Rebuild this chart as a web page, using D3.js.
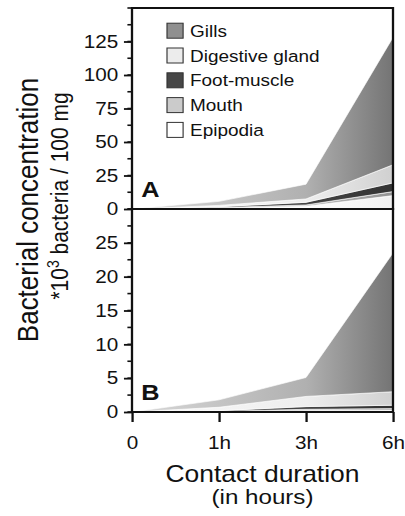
<!DOCTYPE html>
<html>
<head>
<meta charset="utf-8">
<script src="https://cdn.jsdelivr.net/npm/d3@7"></script>
<style>
  body { margin: 0; background: #fff; }
  svg text { font-family: "Liberation Sans", Arial, sans-serif; fill: #111; }
</style>
</head>
<body>
<div id="chart"></div>
<script>
// contact time points
const times = ["0", "1h", "3h", "6h"];
const organs = ["Epipodia", "Mouth", "Foot-muscle", "Digestive gland", "Gills"];

// panel A (x10^3 bacteria / 100 mg)
const aEpipodia  = [0, 0.6, 2, 10];
const aMouth     = [0, 0.5, 1, 3];
const aFoot      = [0, 0.6, 2, 6.5];
const aDigestive = [0, 1, 2.5, 13.5];
const aGills     = [0, 3, 11, 95];

// panel B
const bEpipodia  = [0, 0.05, 0.2, 0.3];
const bMouth     = [0, 0.05, 0.2, 0.2];
const bFoot      = [0, 0.1, 0.4, 0.5];
const bDigestive = [0, 0.5, 1.5, 2.0];
const bGills     = [0, 1.1, 2.8, 20.5];

const aTicks = [0, 25, 50, 75, 100, 125];
const bTicks = [0, 5, 10, 15, 20, 25];

// whole figure is stretched a bit horizontally
const S = 1.15;
const H = 516;
const left = 132 / S, right = 393 / S;
const topA = 8, mid = 209, bot = 412;

const svg = d3.select("#chart").append("svg")
  .attr("width", 405).attr("height", H);
const defs = svg.append("defs");
const g = svg.append("g").attr("transform", `scale(${S},1)`);

const x = d3.scalePoint().domain(times).range([left, right]);

// gradients, left to right
const grads = {
  "Gills": ["#d8d8d8", "#b0b0b0", "#747474"],
  "Digestive gland": ["#fafafa", "#eeeeee", "#d0d0d0"],
  "Foot-muscle": ["#555", "#444", "#333"],
  "Mouth": ["#d0d0d0", "#bdbdbd", "#929292"],
  "Epipodia": ["#ffffff", "#fdfdfd", "#f0f0f0"]
};
Object.keys(grads).forEach((k, i) => {
  const lg = defs.append("linearGradient").attr("id", "gr" + i)
    .attr("gradientUnits", "userSpaceOnUse")
    .attr("x1", left).attr("x2", right).attr("y1", 0).attr("y2", 0);
  [0, 0.67, 1].forEach((o, j) => lg.append("stop")
    .attr("offset", o).attr("stop-color", grads[k][j]));
});
const fillOf = k => "url(#gr" + Object.keys(grads).indexOf(k) + ")";

function panel(cols, domain, y0, y1, ticks, minorStep, letter) {
  const y = d3.scaleLinear().domain(domain).range([y1, y0]);
  const rows = times.map((t, i) => {
    const r = { t };
    organs.forEach((o, j) => r[o] = cols[j][i]);
    return r;
  });
  const series = d3.stack().keys(organs)(rows);
  const area = d3.area()
    .x(d => x(d.data.t))
    .y0(d => y(d[0]))
    .y1(d => y(d[1]));
  g.append("g").selectAll("path").data(series).join("path")
    .attr("d", area)
    .attr("fill", d => fillOf(d.key))
    .attr("stroke", "#fff").attr("stroke-width", 0.6);

  // minor ticks
  const minor = d3.range(domain[0], domain[1] + 0.01, minorStep);
  g.append("g").selectAll("line").data(minor).join("line")
    .attr("x1", left - 4).attr("x2", left)
    .attr("y1", d => y(d)).attr("y2", d => y(d))
    .attr("stroke", "#111").attr("stroke-width", 1.6);

  const ax = g.append("g").attr("transform", `translate(${left},0)`)
    .call(d3.axisLeft(y).tickValues(ticks).tickSize(7).tickPadding(5));
  ax.select(".domain").remove();
  ax.selectAll("line").attr("stroke", "#111").attr("stroke-width", 1.8);
  ax.selectAll("text").attr("font-size", 18).attr("fill", "#111")
    .style("font-family", "Liberation Sans, Arial, sans-serif");

  g.append("rect").attr("x", left).attr("y", y0)
    .attr("width", right - left).attr("height", y1 - y0)
    .attr("fill", "none").attr("stroke", "#111").attr("stroke-width", 2);

  g.append("text").attr("x", left + 8).attr("y", letter === "A" ? 197 : 400)
    .attr("font-size", 22).attr("font-weight", "bold").text(letter);
}

panel([aEpipodia, aMouth, aFoot, aDigestive, aGills], [0, 150], topA, mid,
  aTicks, 12.5, "A");
panel([bEpipodia, bMouth, bFoot, bDigestive, bGills], [0, 30], mid, bot,
  bTicks, 2.5, "B");

// x axis
const xa = g.append("g").attr("transform", `translate(0,${bot})`)
  .call(d3.axisBottom(x).tickSize(10).tickPadding(14));
xa.select(".domain").remove();
xa.selectAll("line").attr("stroke", "#111").attr("stroke-width", 2);
xa.selectAll("text").attr("font-size", 18).attr("fill", "#111")
  .style("font-family", "Liberation Sans, Arial, sans-serif");

// legend
const legendKeys = ["Gills", "Digestive gland", "Foot-muscle", "Mouth", "Epipodia"];
const legendFill = ["#8f8f8f", "#ececec", "#474747", "#cbcbcb", "#ffffff"];
const lg = g.append("g").selectAll("g").data(legendKeys).join("g")
  .attr("transform", (d, i) => `translate(${167 / S},${30.7 + i * 24.8})`);
lg.append("rect").attr("x", 0).attr("y", -7.5).attr("width", 14).attr("height", 15)
  .attr("fill", (d, i) => legendFill[i]).attr("stroke", "#333").attr("stroke-width", 1);
lg.append("text").attr("x", 20).attr("y", 6).attr("font-size", 16.5).text(d => d);

// axis titles
const cx = (left + right) / 2;
g.append("text").attr("x", cx).attr("y", 482).attr("text-anchor", "middle")
  .attr("font-size", 23).text("Contact duration");
g.append("text").attr("x", cx).attr("y", 504).attr("text-anchor", "middle")
  .attr("font-size", 21).text("(in hours)");

g.append("text").attr("transform", `translate(${38 / S},210) rotate(-90)`)
  .attr("text-anchor", "middle").attr("font-size", 26).text("Bacterial concentration");
const t2 = g.append("text").attr("transform", `translate(${68 / S},196) rotate(-90)`)
  .attr("text-anchor", "middle").attr("font-size", 21);
t2.append("tspan").text("*10");
t2.append("tspan").attr("font-size", 14).attr("dy", -8).text("3");
t2.append("tspan").attr("dy", 8).text(" bacteria / 100 mg");
</script>
</body>
</html>
